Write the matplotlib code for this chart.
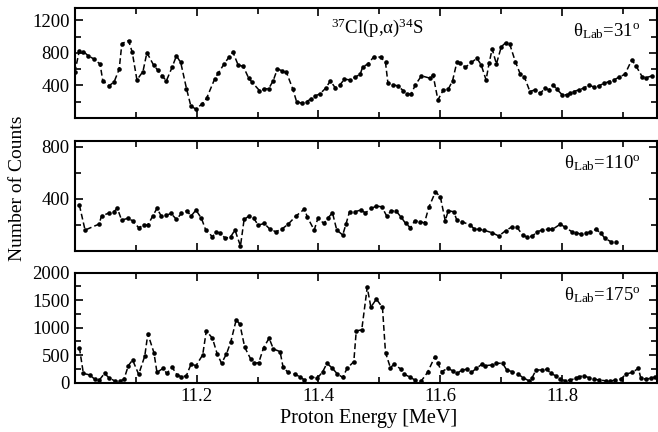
import matplotlib
matplotlib.use("Agg")
import matplotlib.pyplot as plt
from matplotlib.ticker import FixedLocator

# ---------------- data ----------------
energy_31 = [11.000, 11.0077, 11.0142, 11.0225, 11.0323, 11.0417, 11.0461, 11.0565, 11.0647, 11.0730,
             11.0774, 11.0884, 11.0944, 11.1021, 11.112, 11.1185, 11.1295, 11.136, 11.1433, 11.1504,
             11.1603, 11.1669, 11.174, 11.1834, 11.1905, 11.1987, 11.2092, 11.2163, 11.23, 11.2355,
             11.2449, 11.253, 11.2597, 11.268, 11.2767, 11.2855, 11.291, 11.3031, 11.3108, 11.3184,
             11.3256, 11.3327, 11.3404, 11.3475, 11.358, 11.364, 11.3723, 11.3805, 11.3882, 11.3948,
             11.4025, 11.4118, 11.4195, 11.4272, 11.4349, 11.4426, 11.4519, 11.4602, 11.4684,
             11.4728, 11.481, 11.491, 11.502, 11.510, 11.514, 11.522, 11.530, 11.539, 11.546,
             11.552, 11.559, 11.569, 11.583, 11.588, 11.596, 11.605, 11.613, 11.620, 11.627,
             11.633, 11.641, 11.651, 11.660, 11.667, 11.675, 11.680, 11.685, 11.692, 11.700,
             11.707, 11.714, 11.723, 11.731, 11.738, 11.747, 11.755, 11.764, 11.772, 11.778,
             11.785, 11.791, 11.800, 11.808, 11.813, 11.819, 11.827, 11.835, 11.844, 11.852,
             11.860, 11.869, 11.877, 11.885, 11.893, 11.903, 11.914, 11.921, 11.931, 11.938, 11.948]
counts_31 = [560, 830, 818, 764, 723, 662, 457, 396, 445, 601,
             916, 953, 810, 469, 572, 805, 650, 592, 519, 457,
             633, 765, 683, 363, 150, 109, 174, 240, 486, 551,
             662, 748, 810, 655, 634, 490, 441, 338, 355, 363,
             457, 605, 580, 560, 355, 203, 182, 203, 236, 273,
             297, 367, 457, 375, 404, 478, 469, 502, 539,
             633, 662, 756, 748, 683, 428, 408, 396, 338, 297,
             293, 408, 519, 490, 531, 223, 346, 355, 457, 683,
             674, 625, 683, 736, 654, 469, 674, 850, 665, 877,
             925, 905, 695, 543, 502, 326, 346, 305, 367, 346,
             408, 355, 285, 285, 305, 326, 346, 367, 408, 379,
             396, 428, 449, 469, 502, 539, 715, 642, 510, 498, 519]

energy_110 = [11.0077, 11.017, 11.040, 11.044, 11.057, 11.064, 11.070, 11.077, 11.087, 11.095,
              11.105, 11.113, 11.120, 11.128, 11.135, 11.142, 11.150, 11.158, 11.167, 11.175,
              11.184, 11.191, 11.199, 11.208, 11.215, 11.226, 11.232, 11.239, 11.247, 11.256,
              11.263, 11.272, 11.278, 11.286, 11.294, 11.301, 11.311, 11.320, 11.330, 11.340,
              11.350, 11.363, 11.377, 11.382, 11.393, 11.399, 11.409, 11.415, 11.423, 11.430,
              11.4398, 11.445, 11.451, 11.460, 11.469, 11.477, 11.487, 11.495, 11.504, 11.512,
              11.519, 11.527, 11.536, 11.543, 11.551, 11.558, 11.566, 11.574, 11.581, 11.592,
              11.600, 11.608, 11.613, 11.622, 11.627, 11.636, 11.649, 11.656, 11.663, 11.671,
              11.685, 11.696, 11.707, 11.718, 11.726, 11.735, 11.743, 11.751, 11.759, 11.767,
              11.776, 11.784, 11.797, 11.805, 11.816, 11.822, 11.831, 11.839, 11.846, 11.855,
              11.863, 11.870, 11.880, 11.889]
counts_110 = [351, 159, 205, 267, 292, 300, 326, 236, 249, 231,
              177, 197, 197, 267, 326, 267, 272, 287, 241, 287,
              308, 267, 313, 249, 159, 108, 141, 138, 95, 108,
              159, 36, 241, 267, 249, 197, 210, 167, 146, 167,
              203, 267, 321, 256, 159, 249, 210, 249, 292, 159,
              121, 203, 300, 300, 313, 292, 326, 344, 338, 267,
              305, 308, 256, 210, 177, 231, 223, 215, 333, 454,
              415, 231, 308, 300, 236, 223, 197, 167, 164, 159,
              138, 113, 154, 185, 179, 121, 103, 113, 146, 159,
              164, 164, 205, 179, 146, 138, 128, 133, 146, 164,
              138, 95, 69, 64]

energy_175 = [11.0077, 11.0142, 11.025, 11.033, 11.040, 11.049, 11.056, 11.066, 11.075, 11.081,
              11.088, 11.095, 11.105, 11.115, 11.120, 11.130, 11.135, 11.145, 11.151, 11.160,
              11.168, 11.175, 11.183, 11.191, 11.199, 11.210, 11.216, 11.226, 11.234, 11.241,
              11.249, 11.256, 11.265, 11.271, 11.279, 11.289, 11.295, 11.302, 11.310, 11.319,
              11.326, 11.337, 11.342, 11.350, 11.361, 11.369, 11.377, 11.388, 11.398, 11.407,
              11.414, 11.423, 11.431, 11.4398, 11.447, 11.458, 11.462, 11.471, 11.480, 11.486,
              11.495, 11.505, 11.510, 11.518, 11.524, 11.535, 11.540, 11.551, 11.559, 11.569,
              11.579, 11.591, 11.596, 11.602, 11.612, 11.621, 11.628, 11.635, 11.643, 11.651,
              11.659, 11.668, 11.674, 11.684, 11.692, 11.702, 11.709, 11.718, 11.727, 11.736,
              11.745, 11.750, 11.757, 11.766, 11.775, 11.781, 11.789, 11.797, 11.805, 11.813,
              11.822, 11.828, 11.835, 11.844, 11.852, 11.860, 11.871, 11.879, 11.887, 11.896,
              11.905, 11.915, 11.925, 11.929, 11.937, 11.945, 11.953]
counts_175 = [638, 170, 140, 61, 43, 170, 91, 30, 30, 67,
              310, 413, 152, 486, 888, 547, 188, 261, 170, 280,
              140, 109, 122, 340, 310, 505, 942, 809, 517, 353,
              523, 736, 1143, 1064, 644, 426, 353, 365, 638, 809,
              614, 565, 280, 188, 158, 109, 49, 109, 79, 201,
              353, 261, 158, 97, 261, 383, 942, 961, 1733, 1374,
              1520, 1368, 547, 274, 334, 249, 158, 97, 43, 36,
              188, 474, 353, 201, 261, 213, 170, 231, 243, 188,
              261, 334, 310, 322, 353, 353, 231, 201, 158, 91,
              36, 79, 231, 231, 243, 170, 128, 67, 36, 49,
              79, 109, 128, 91, 67, 49, 36, 30, 49, 67,
              158, 188, 261, 79, 67, 79, 109]

angle_labels = ["31", "110", "175"]
reaction_label = r"$^{37}$Cl(p,α)$^{34}$S"
x_major = [11.2, 11.4, 11.6, 11.8]
x_minor = [11.1, 11.3, 11.5, 11.7, 11.9]
y_major = [[400, 800, 1200], [400, 800], [0, 500, 1000, 1500, 2000]]
y_minor = [[200, 600, 1000], [200, 600], [250, 750, 1250, 1750]]
y_limits = [(0, 1350), (0, 845), (0, 2000)]

# ---------------- style ----------------
plt.rcParams['font.family'] = ['Liberation Serif', 'DejaVu Serif']
plt.rcParams['mathtext.fontset'] = 'custom'
plt.rcParams['mathtext.rm'] = 'Liberation Serif'
plt.rcParams['mathtext.it'] = 'Liberation Serif:italic'
plt.rcParams['mathtext.bf'] = 'Liberation Serif:bold'
plt.rcParams['lines.scale_dashes'] = False

fig = plt.figure(figsize=(6.58, 4.32), dpi=100)
left = 74.7 / 658
width = (657 - 74.7) / 658
positions = [
    [left, 1 - 118 / 432, width, 109.7 / 432],
    [left, 1 - 250.7 / 432, width, 109.7 / 432],
    [left, 1 - 382.7 / 432, width, 110 / 432],
]
series = [(energy_31, counts_31), (energy_110, counts_110), (energy_175, counts_175)]
label_y = [0.741, 0.751, 0.752]

axes = []
for i, pos in enumerate(positions):
    ax = fig.add_axes(pos)
    e, c = series[i]
    ax.plot(e, c, color='black', lw=1.1, dashes=(4.2, 2.2), marker='o',
            markersize=3.3, markeredgewidth=0)
    ax.set_xlim(11.0, 11.9555)
    ax.set_ylim(*y_limits[i])
    ax.xaxis.set_major_locator(FixedLocator(x_major))
    ax.xaxis.set_minor_locator(FixedLocator(x_minor))
    ax.yaxis.set_major_locator(FixedLocator(y_major[i]))
    ax.yaxis.set_minor_locator(FixedLocator(y_minor[i]))
    ax.tick_params(which='both', direction='in', top=True, right=True,
                   width=1.2, labelsize=13.5, pad=3.5)
    ax.tick_params(which='major', length=6)
    ax.tick_params(which='minor', length=4)
    for sp in ax.spines.values():
        sp.set_linewidth(1.5)
    if i < 2:
        ax.tick_params(labelbottom=False)
    ax.text(0.972, label_y[i], r"θ$_{\rm Lab}$=" + angle_labels[i] + r"$^{\rm o}$",
            transform=ax.transAxes, ha='right', va='baseline', fontsize=13.5)
    axes.append(ax)

axes[0].text(0.52, 0.772, reaction_label, transform=axes[0].transAxes,
             ha='center', va='baseline', fontsize=13.5)

fig.text(0.026, 0.564, "Number of Counts", rotation=90, ha='center', va='center', fontsize=14)
fig.text(0.56, 1 - 423 / 432, "Proton Energy [MeV]", ha='center', va='baseline', fontsize=14.6)

fig.savefig("out.png", dpi=100)
